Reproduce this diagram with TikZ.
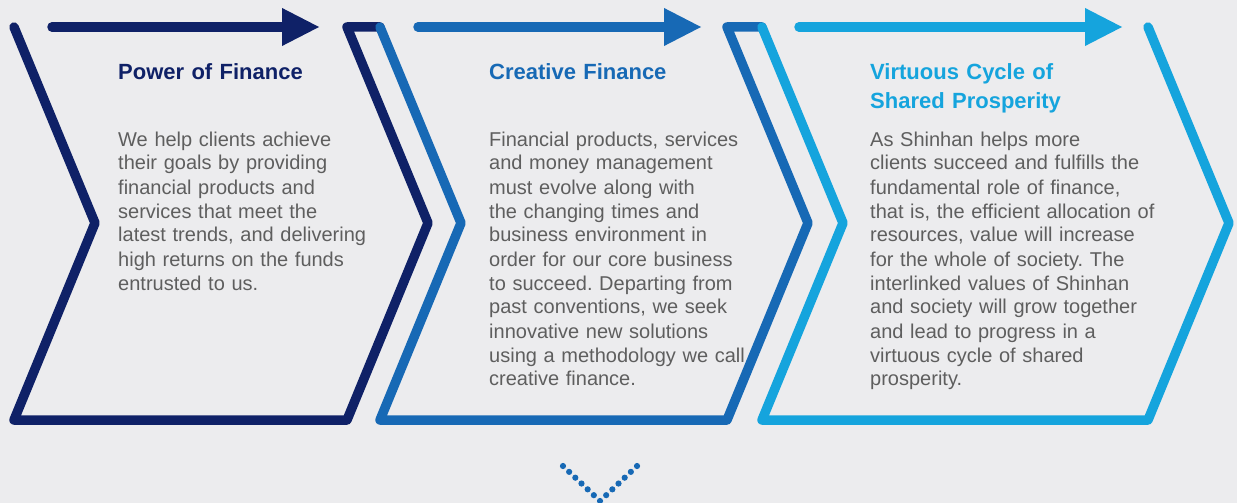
\documentclass[tikz,border=0pt]{standalone}
\usepackage{fontspec}
\setmainfont{Liberation Sans}
\usetikzlibrary{arrows.meta}
\definecolor{bgc}{HTML}{ECECEE}
\definecolor{navy}{HTML}{0F2167}
\definecolor{midblue}{HTML}{1769B5}
\definecolor{skyblue}{HTML}{15A4DD}
\definecolor{bodygray}{HTML}{5E5E5E}
\frenchspacing
\begin{document}
\begin{tikzpicture}[x=1pt,y=-1pt,
  frame/.style={line width=9.5pt,line cap=round,line join=round},
  flow/.style={line width=9.5pt,line cap=round,
    -{Triangle[length=38pt,width=35pt,line cap=butt]}},
  title/.style={anchor=base west,inner sep=0pt,text width=300pt,align=left,
    font=\fontsize{22}{29.5}\selectfont\bfseries},
  body/.style={anchor=base west,inner sep=0pt,text width=340pt,align=left,
    text=bodygray,font=\fontsize{20}{24}\selectfont}]
  % backdrop
  \fill[bgc] (0,0) rectangle (1237,503);
  \useasboundingbox (0,0) rectangle (1237,503);

  % chevron frames
  \draw[frame,navy] (14,27) -- (95,223) -- (14,420) -- (347,420) -- (428,223) -- (347,27) -- (380,27);
  \draw[frame,midblue] (380,27) -- (461,223) -- (380,420) -- (727,420) -- (808,223) -- (727,27) -- (762,27);
  \draw[frame,skyblue] (762,27) -- (843,223) -- (762,420) -- (1148,420) -- (1229,223) -- (1148,27);

  % arrows along the top
  \coordinate (a1s) at (52,27);  \coordinate (a1e) at (320,27);
  \coordinate (a2s) at (418,27); \coordinate (a2e) at (702,27);
  \coordinate (a3s) at (799,27); \coordinate (a3e) at (1123,27);
  \draw[flow,navy] (a1s) -- (a1e);
  \draw[flow,midblue] (a2s) -- (a2e);
  \draw[flow,skyblue] (a3s) -- (a3e);

  % headings
  \node[title,text=navy] (t1) at (118,79) {Power of Finance};
  \node[title,text=midblue] (t2) at (489,79) {Creative Finance};
  \node[title,text=skyblue] (t3) at (870,79) {Virtuous Cycle of\\Shared Prosperity};

  % descriptions
  \node[body] (b1) at (118,146) {We help clients achieve\\their goals by providing\\financial products and\\services that meet the\\latest trends, and delivering\\high returns on the funds\\entrusted to us.};
  \node[body] (b2) at (489,146) {Financial products, services\\and money management\\must evolve along with\\the changing times and\\business environment in\\order for our core business\\to succeed. Departing from\\past conventions, we seek\\innovative new solutions\\using a methodology we call\\creative finance.};
  \node[body] (b3) at (870,146) {As Shinhan helps more\\clients succeed and fulfills the\\fundamental role of finance,\\that is, the efficient allocation of\\resources, value will increase\\for the whole of society. The\\interlinked values of Shinhan\\and society will grow together\\and lead to progress in a\\virtuous cycle of shared\\prosperity.};

  % dotted down marker
  \foreach \k in {-6,...,6}{
    \fill[midblue] ({600+6.17*\k},{501-5.83*abs(\k)}) circle (3.1pt);
  }
\end{tikzpicture}
\end{document}
